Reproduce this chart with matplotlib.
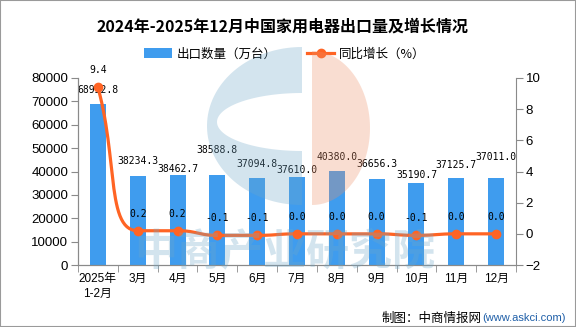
import numpy as np
import matplotlib.pyplot as plt
from matplotlib.lines import Line2D
from matplotlib.patches import Polygon, Rectangle
from matplotlib.transforms import Affine2D

plt.rcParams['font.family'] = ['Liberation Sans', 'Noto Sans CJK SC', 'DejaVu Sans']

# data
months = ['2025年\n1-2月', '3月', '4月', '5月', '6月', '7月', '8月', '9月', '10月', '11月', '12月']
export_volume = [68952.8, 38234.3, 38462.7, 38588.8, 37094.8, 37610.0, 40380.0, 36656.3, 35190.7, 37125.7, 37011.0]
yoy_growth = [9.4, 0.2, 0.2, -0.1, -0.1, 0.0, 0.0, 0.0, -0.1, 0.0, 0.0]

# label offsets above the bar tops (pixels), as placed in the original
bar_label_offsets = [14, 15, 6, 25, 14, 7, 14, 15, 8, 13, 21]

BAR_COLOR = '#3f9cee'
LINE_COLOR = '#ff6424'
AXIS_COLOR = '#8a8a8a'
DPI = 100
W, H = 576, 327


def smooth_curve(xs, ys, sx, sy, smooth=0.5, steps=30):
    # echarts-style bezier smoothing (with control point constraint), in pixel space
    pts = np.column_stack([np.asarray(xs, float) * sx, np.asarray(ys, float) * sy])
    n = len(pts)
    cin = pts.copy()
    cout = pts.copy()
    for i in range(n):
        p = pts[i]
        prev = pts[max(i - 1, 0)]
        nxt = pts[min(i + 1, n - 1)]
        v = nxt - prev
        lp = np.linalg.norm(p - prev)
        ln = np.linalg.norm(nxt - p)
        r = ln / (ln + lp) if ln + lp > 0 else 0.5
        c_out = p + v * smooth * r
        c_in = p - v * smooth * (1 - r)
        c_out = np.clip(c_out, np.minimum(p, nxt), np.maximum(p, nxt))
        c_in = np.clip(c_in, np.minimum(p, prev), np.maximum(p, prev))
        if lp > 0 and ln > 0:
            c_in = p - (c_out - p) * lp / ln
            c_in = np.clip(c_in, np.minimum(p, prev), np.maximum(p, prev))
            c_out = p + (p - c_in) * ln / lp
        cin[i] = c_in
        cout[i] = c_out
    t = np.linspace(0, 1, steps)[:, None]
    segs = []
    for i in range(n - 1):
        p0, p1, p2, p3 = pts[i], cout[i], cin[i + 1], pts[i + 1]
        seg = (1 - t) ** 3 * p0 + 3 * (1 - t) ** 2 * t * p1 + 3 * (1 - t) * t ** 2 * p2 + t ** 3 * p3
        segs.append(seg if i == 0 else seg[1:])
    c = np.vstack(segs)
    return c[:, 0] / sx, c[:, 1] / sy


fig = plt.figure(figsize=(W / DPI, H / DPI), dpi=DPI)
ax = fig.add_axes([78 / W, 1 - 265 / H, 438 / W, 187 / H])
ax2 = ax.twinx()

x = np.arange(len(months))
bars = ax.bar(x, export_volume, width=0.4, color=BAR_COLOR, zorder=2)

ax.set_xlim(-0.5, len(months) - 0.5)
ax.set_ylim(0, 80000)
ax.set_yticks(np.arange(0, 80001, 10000))
ax2.set_ylim(-2, 10)
ax2.set_yticks(np.arange(-2, 11, 2))

ax.set_xticks(x)
ax.set_xticklabels(months, fontsize=8.5, linespacing=1.3)
ax.set_xticks(np.arange(-0.5, len(months), 1), minor=True)
ax.tick_params(axis='x', which='major', length=0, pad=6)
ax.tick_params(axis='x', which='minor', length=5, color=AXIS_COLOR)
ax.tick_params(axis='y', length=5, color=AXIS_COLOR, labelsize=9.5, pad=2)
ax2.tick_params(axis='y', length=5, color=AXIS_COLOR, labelsize=9.5, pad=2)

for a in (ax, ax2):
    a.patch.set_visible(False)
    a.spines['top'].set_visible(False)
    for s in ('left', 'right', 'bottom'):
        a.spines[s].set_color(AXIS_COLOR)
ax.spines['right'].set_visible(False)

# growth line
cx, cy = smooth_curve(x, yoy_growth, 40.0, 187 / 12)
ax2.plot(cx, cy, color=LINE_COLOR, lw=2.3, zorder=3, solid_capstyle='round')
ax2.plot(x, yoy_growth, 'o', color=LINE_COLOR, ms=6, zorder=4)

# labels
for i, v in enumerate(export_volume):
    ax.annotate(f'{v:.1f}', (x[i], v), xytext=(0, bar_label_offsets[i]), textcoords='offset pixels',
                ha='center', va='center', fontsize=7, family='DejaVu Sans Mono', zorder=5)
for i, v in enumerate(yoy_growth):
    ax2.annotate(f'{v:.1f}', (x[i], v), xytext=(0, 17), textcoords='offset pixels',
                 ha='center', va='center', fontsize=7, family='DejaVu Sans Mono', zorder=5)

# title, legend, footer
fig.text(0.49, 1 - 27 / H, '2024年-2025年12月中国家用电器出口量及增长情况', ha='center', va='center',
         fontsize=11.5, fontweight='bold', family=['Noto Sans CJK SC', 'DejaVu Sans'])
handles = [bars, Line2D([], [], color=LINE_COLOR, lw=2.3, marker='o', ms=6)]
fig.legend(handles, ['出口数量（万台）', '同比增长（%）'], loc='center', bbox_to_anchor=(0.495, 1 - 54 / H),
           ncol=2, frameon=False, handlelength=2.2, handleheight=0.8,
           handletextpad=0.4, columnspacing=2.4, prop={'family': ['Noto Sans CJK SC', 'DejaVu Sans'], 'size': 9})
fig.text(482 / W, 1 - 318 / H, '制图：中商情报网', ha='right', va='center', fontsize=9,
         family=['Noto Sans CJK SC', 'DejaVu Sans'])
fig.text(566 / W, 1 - 318 / H, '(www.askci.com)', ha='right', va='center', fontsize=8, color='#1f5fa8')

# watermark (logo + name), drawn faintly on top
px = Affine2D().scale(1, -1).translate(0, H).scale(1 / DPI) + fig.dpi_scale_trans
th = np.linspace(np.pi / 2, 3 * np.pi / 2, 80)
outer_arc = np.column_stack([302 + 95 * np.cos(th), 126 + 79 * np.sin(th)])
inner_arc = np.column_stack([302 + 85 * np.cos(th[::-1]), 122 + 29 * np.sin(th[::-1])])
c_shape = np.vstack([outer_arc, inner_arc])
fig.patches.append(Polygon(c_shape, closed=True, transform=px, facecolor='#6fa7c8', alpha=0.3,
                           edgecolor='none', zorder=10))
th2 = np.linspace(-np.pi / 2, np.pi / 2, 80)
peach = np.column_stack([312 + 58 * np.cos(th2), 128 + 77 * np.sin(th2)])
fig.patches.append(Polygon(peach, closed=True, transform=px, facecolor='#ee9169', alpha=0.3,
                           edgecolor='none', zorder=10))
fig.text(285 / W, 1 - 251 / H, '中商产业研究院', ha='center', va='center', fontsize=31, fontweight='bold',
         color='#6fa7c8', alpha=0.3, family=['Noto Sans CJK SC', 'DejaVu Sans'], zorder=10)

# outer frame
fig.patches.append(Rectangle((0, 0), 1, 1, transform=fig.transFigure, fill=False,
                             edgecolor='#9a9a9a', lw=1.5, zorder=11))

fig.savefig('out.png', dpi=DPI)
